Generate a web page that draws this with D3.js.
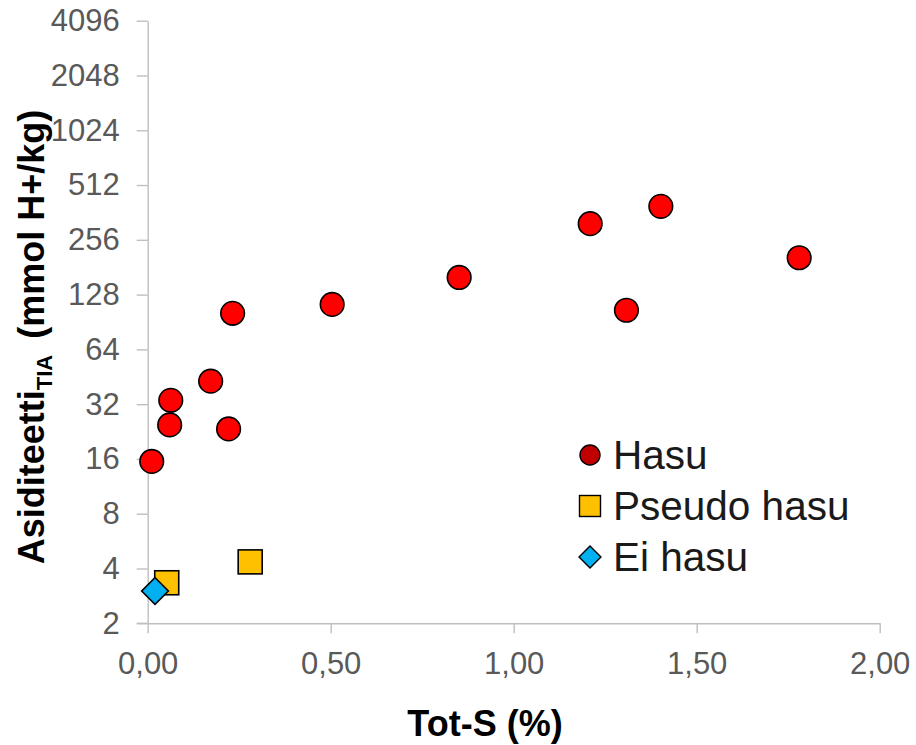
<!DOCTYPE html>
<html lang="fi">
<head>
  <meta charset="UTF-8" />
  <title>Asiditeetti vs Tot-S</title>
  <script src="https://d3js.org/d3.v7.min.js"></script>
  <style>
    body { margin: 0; background: #fff; }
    svg { display: block; font-family: "Liberation Sans", Arial, sans-serif; }
    .axis path, .axis line { stroke: #bfbfbf; stroke-width: 1.4; }
    .axis text { fill: #595959; font-size: 31px; font-family: "Liberation Sans", Arial, sans-serif; }
  </style>
</head>
<body>
  <svg id="chart" width="916" height="745"></svg>
  <script>
    // Hasu (acid sulfate) samples
    const hasuX = [0.011, 0.060, 0.063, 0.172, 0.221, 0.232, 0.504, 0.851, 1.209, 1.402, 1.308, 1.780];
    const hasuY = [15.5, 24.6, 33.6, 42.8, 23.4, 101, 113, 159, 314, 391, 105, 204];
    // Pseudo hasu
    const pseudoX = [0.052, 0.280];
    const pseudoY = [3.34, 4.35];
    // Ei hasu
    const eiX = [0.020];
    const eiY = [3.01];

    const yTicks = [2, 4, 8, 16, 32, 64, 128, 256, 512, 1024, 2048, 4096];
    const xTicks = [0, 0.5, 1, 1.5, 2];
    const legendNames = ["Hasu", "Pseudo hasu", "Ei hasu"];

    const svg = d3.select("#chart");

    const x = d3.scaleLinear().domain([0, 2]).range([147.7, 879.7]);
    const y = d3.scaleLog().base(2).domain([2, 4096]).range([623.3, 20.7]);

    svg.append("g")
      .attr("class", "axis")
      .attr("transform", `translate(${x(0)},0)`)
      .call(d3.axisLeft(y).tickValues(yTicks).tickFormat(d => d).tickSize(11).tickSizeOuter(0).tickPadding(17));

    svg.append("g")
      .attr("class", "axis")
      .attr("transform", `translate(0,${y(2)})`)
      .call(d3.axisBottom(x).tickValues(xTicks)
        .tickFormat(d => d3.format(".2f")(d).replace(".", ","))
        .tickSize(10).tickSizeOuter(0).tickPadding(18.7));

    // extend x axis line to the left under the y tick
    svg.append("line")
      .attr("x1", x(0) - 11).attr("x2", x(0))
      .attr("y1", y(2)).attr("y2", y(2))
      .attr("stroke", "#bfbfbf").attr("stroke-width", 1.4);

    const hasu = hasuX.map((v, i) => [v, hasuY[i]]);
    const pseudo = pseudoX.map((v, i) => [v, pseudoY[i]]);
    const ei = eiX.map((v, i) => [v, eiY[i]]);

    svg.append("g").selectAll("circle").data(hasu).enter().append("circle")
      .attr("cx", d => x(d[0]))
      .attr("cy", d => y(d[1]))
      .attr("r", 11.8)
      .attr("fill", "#ff0000")
      .attr("stroke", "#000")
      .attr("stroke-width", 1.6);

    svg.append("g").selectAll("rect").data(pseudo).enter().append("rect")
      .attr("x", d => x(d[0]) - 12)
      .attr("y", d => y(d[1]) - 12)
      .attr("width", 24)
      .attr("height", 24)
      .attr("fill", "#ffc000")
      .attr("stroke", "#000")
      .attr("stroke-width", 1.6);

    const diamond = d3.symbol().type(d3.symbolSquare).size(24 * 24 * 0.62);
    svg.append("g").selectAll("path").data(ei).enter().append("path")
      .attr("d", diamond)
      .attr("transform", d => `translate(${x(d[0])},${y(d[1])}) rotate(45)`)
      .attr("fill", "#00b0f0")
      .attr("stroke", "#000")
      .attr("stroke-width", 1.6);

    // legend
    const legend = svg.append("g").attr("transform", "translate(590,455)");
    const rowGap = 51;
    legend.append("circle").attr("cx", 0).attr("cy", 0).attr("r", 10)
      .attr("fill", "#c00000").attr("stroke", "#000").attr("stroke-width", 1.4);
    legend.append("rect").attr("x", -10.5).attr("y", rowGap - 10.5).attr("width", 21).attr("height", 21)
      .attr("fill", "#ffc000").attr("stroke", "#000").attr("stroke-width", 1.4);
    legend.append("path")
      .attr("d", d3.symbol().type(d3.symbolSquare).size(15.5 * 15.5))
      .attr("transform", `translate(0,${rowGap * 2}) rotate(45)`)
      .attr("fill", "#00b0f0").attr("stroke", "#000").attr("stroke-width", 1.4);
    legend.selectAll("text").data(legendNames).enter().append("text")
      .attr("x", 23)
      .attr("y", (d, i) => i * rowGap + 14)
      .attr("font-size", 40.5)
      .attr("fill", "#1a1a1a")
      .text(d => d);

    // axis titles
    const yTitle = svg.append("text")
      .attr("transform", "translate(44,337) rotate(-90)")
      .attr("text-anchor", "middle")
      .attr("font-weight", "bold")
      .attr("font-size", 36)
      .attr("fill", "#000");
    yTitle.append("tspan").text("Asiditeetti");
    yTitle.append("tspan").attr("font-size", 22).attr("dy", 8).text("TIA");
    yTitle.append("tspan").attr("dy", -8).attr("dx", 6).text(" (mmol H+/kg)");

    svg.append("text")
      .attr("x", 485)
      .attr("y", 736)
      .attr("text-anchor", "middle")
      .attr("font-weight", "bold")
      .attr("font-size", 36)
      .attr("fill", "#000")
      .text("Tot-S (%)");
  </script>
</body>
</html>
